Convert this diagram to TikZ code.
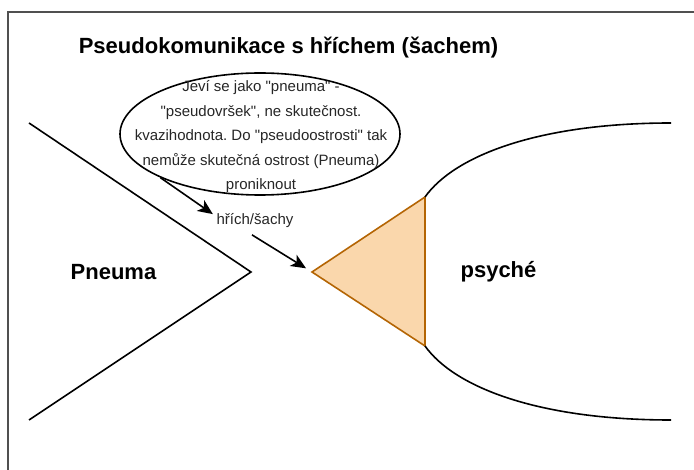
\documentclass[tikz,border=0pt]{standalone}
\usepackage{fontspec}
\setmainfont{Liberation Sans}
\usetikzlibrary{shapes.geometric,arrows.meta,positioning}
\definecolor{sinfill}{HTML}{FAD7AC}
\definecolor{sindraw}{HTML}{B46504}
\definecolor{framegray}{HTML}{505050}
\newcommand{\q}{\textquotedbl}
\frenchspacing

\begin{document}
\begin{tikzpicture}[x=1pt,y=-1pt,line width=1.6pt,
        big label/.style={font=\fontsize{22}{26}\selectfont\bfseries},
        small label/.style={font=\fontsize{15}{24.5}\selectfont,align=center,inner sep=0pt,text=black!85},
        bubble/.style={draw,ellipse,minimum width=280pt,minimum height=122pt,inner sep=0pt},
        arr/.style={-{Stealth[length=15pt,width=13pt,inset=4pt]}}]

        \useasboundingbox (0,0) rectangle (694,470);

        % Frame
        \draw[framegray,line width=2pt] (704,12) -| (8,480);

        % Define labels
        \node[big label] (title) at (288.5,48) {Pseudokomunikace s hříchem (šachem)};
        \node[big label] (pneuma) at (113.5,272) {Pneuma};
        \node[big label] (psyche) at (498.5,272) {psyché};
        \node[bubble] (bubble) at (260,134) {};
        \node[small label] (bubbletext) at (261,137) {Jeví se jako \q pneuma\q{} -\\
            \q pseudovršek\q, ne skutečnost.\\
            kvazihodnota. Do \q pseudoostrosti\q{} tak\\
            nemůže skutečná ostrost (Pneuma)\\
            proniknout};
        \node[small label] (sin) at (255,221) {hřích/šachy};

        % Define shapes
        \coordinate (ptop) at (29,123);
        \coordinate (pvertex) at (251,272);
        \coordinate (pbot) at (29,420);
        \coordinate (tip) at (312,272);
        \coordinate (ttop) at (425,197);
        \coordinate (tbot) at (425,346);
        \coordinate (stop) at (671,123);
        \coordinate (sbot) at (671,420);

        \draw (ptop) -- (pvertex) -- (pbot);
        \draw[fill=sinfill,draw=sindraw] (tip) -- (ttop) -- (tbot) -- cycle;
        \draw (ttop) .. controls (455,155) and (540,123) .. (stop);
        \draw (tbot) .. controls (455,388) and (540,420) .. (sbot);

        % Draw edges
        \draw[arr] (bubble.south west) -- ([shift={(-3,1)}]sin.north west);
        \draw[arr,shorten >=7pt] ([shift={(-3,6)}]sin.south) -- (tip);

\end{tikzpicture}
\end{document}
